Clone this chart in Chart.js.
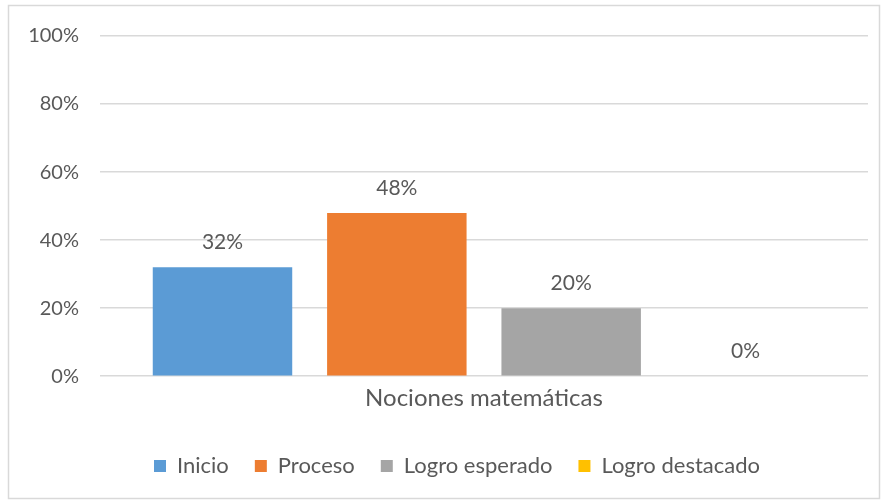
<!DOCTYPE html>
<html>
<head>
<meta charset="utf-8">
<script src="https://cdn.jsdelivr.net/npm/chart.js@4/dist/chart.umd.min.js"></script>
<style>
  html, body { margin: 0; padding: 0; background: #fff; }
  #wrap { width: 885px; height: 501px; position: relative; }
</style>
</head>
<body>
<div id="wrap"><canvas id="chart" width="885" height="501"></canvas></div>
<script>
// ── DATA ─────────────────────────────────────────
const categories = ['Nociones matemáticas'];
const seriesNames = ['Inicio', 'Proceso', 'Logro esperado', 'Logro destacado'];
const seriesValues = [[32], [48], [20], [0]];
const seriesColors = ['#5B9BD5', '#ED7D31', '#A5A5A5', '#FFC000'];
const yTicks = [0, 20, 40, 60, 80, 100];

const textColor = '#595959';
const gridColor = '#d9d9d9';
const font = 'Lato, "Liberation Sans", sans-serif';

// outer frame like the office chart border
const framePlugin = {
  id: 'frame',
  beforeDraw(chart) {
    const c = chart.ctx;
    c.save();
    c.fillStyle = '#fff';
    c.fillRect(0, 0, chart.width, chart.height);
    c.strokeStyle = gridColor;
    c.lineWidth = 1.5;
    c.strokeRect(8.5, 5.5, chart.width - 14, chart.height - 8);
    c.restore();
  },
  // legend sits a bit right of canvas centre in the original
  afterLayout(chart) {
    if (chart.legend) { chart.legend.left += 18; chart.legend.right += 18; }
  }
};

// value labels above bars
const valueLabels = {
  id: 'valueLabels',
  afterDatasetsDraw(chart) {
    const c = chart.ctx;
    c.save();
    c.fillStyle = textColor;
    c.font = '21px ' + font;
    c.textAlign = 'center';
    c.textBaseline = 'middle';
    chart.data.datasets.forEach((ds, i) => {
      chart.getDatasetMeta(i).data.forEach((bar, j) => {
        c.fillText(ds.data[j] + '%', bar.x, bar.y - 25);
      });
    });
    c.restore();
  }
};

new Chart(document.getElementById('chart'), {
  type: 'bar',
  data: {
    labels: categories,
    datasets: seriesNames.map((name, i) => ({
      label: name,
      data: seriesValues[i],
      backgroundColor: seriesColors[i],
      borderWidth: 0,
      categoryPercentage: 0.908,
      barPercentage: 0.8,
    }))
  },
  options: {
    responsive: false,
    animation: false,
    layout: { padding: { left: 10, right: 17, top: 36, bottom: 14 } },
    plugins: {
      tooltip: { enabled: false },
      legend: {
        position: 'bottom',
        labels: {
          boxWidth: 12,
          boxHeight: 12,
          padding: 26,
          color: textColor,
          font: { family: font, size: 22 },
        }
      }
    },
    scales: {
      x: {
        grid: { display: false },
        border: { display: false },
        afterFit: axis => { axis.height += 16; },
        ticks: { color: textColor, font: { family: font, size: 24 }, padding: 0 },
      },
      y: {
        min: 0, max: 100,
        afterBuildTicks: axis => { axis.ticks = yTicks.map(v => ({ value: v })); },
        afterFit: axis => { axis.width = 90; },
        grid: { color: gridColor, lineWidth: 1.5, drawTicks: false },
        border: { display: false },
        ticks: {
          color: textColor,
          padding: 21,
          font: { family: font, size: 20 },
          callback: v => v + '%'
        }
      }
    }
  },
  plugins: [framePlugin, valueLabels]
});
</script>
</body>
</html>
